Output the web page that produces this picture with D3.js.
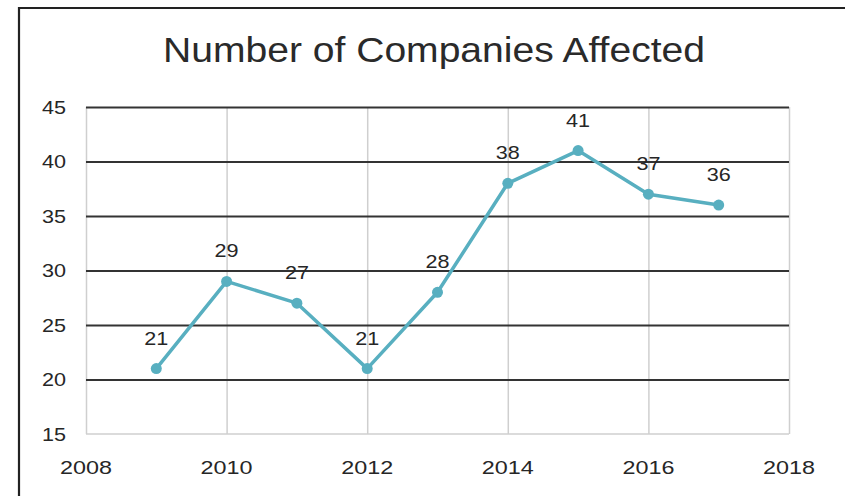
<!DOCTYPE html>
<html>
<head>
<meta charset="utf-8">
<script src="https://cdn.jsdelivr.net/npm/d3@7"></script>
<style>
  html, body { margin: 0; padding: 0; background: #fff; }
  svg { display: block; }
  text { font-family: "Liberation Sans", Arial, sans-serif; fill: #262626; }
</style>
</head>
<body>
<svg id="chart" width="845" height="496"></svg>
<script>
// Companies affected per year
const years = [2009, 2010, 2011, 2012, 2013, 2014, 2015, 2016, 2017];
const companies = [21, 29, 27, 21, 28, 38, 41, 37, 36];
const xTicks = [2008, 2010, 2012, 2014, 2016, 2018];
const yTicks = [15, 20, 25, 30, 35, 40, 45];
const title = "Number of Companies Affected";

const svg = d3.select("#chart");
const W = 845, H = 496;
const plot = { left: 86, right: 789, top: 107, bottom: 434 };

const x = d3.scaleLinear().domain([2008, 2018]).range([plot.left, plot.right]);
const y = d3.scaleLinear().domain([15, 45]).range([plot.bottom, plot.top]);

// outer frame (left and top edges visible)
svg.append("path")
  .attr("d", `M19,${H} L19,8 L${W},8`)
  .attr("fill", "none")
  .attr("stroke", "#222")
  .attr("stroke-width", 2.2);

// title
const t = svg.append("text")
  .attr("x", 434).attr("y", 62)
  .attr("text-anchor", "middle")
  .style("font-size", "35px")
  .style("fill", "#2a2a2a")
  .text(title);
t.attr("textLength", 542).attr("lengthAdjust", "spacingAndGlyphs");

// vertical gridlines
svg.append("g")
  .attr("transform", `translate(0,${plot.bottom})`)
  .call(d3.axisBottom(x).tickValues(xTicks).tickSize(-(plot.bottom - plot.top)).tickFormat(""))
  .call(g => g.select(".domain").remove())
  .call(g => g.selectAll(".tick line").attr("stroke", "#cfcfcf").attr("stroke-width", 1.5));

// bottom axis line at the minimum value
svg.append("line")
  .attr("x1", plot.left).attr("x2", plot.right)
  .attr("y1", y(15)).attr("y2", y(15))
  .attr("stroke", "#cfcfcf").attr("stroke-width", 1.5);

// horizontal gridlines
svg.append("g")
  .attr("transform", `translate(${plot.left},0)`)
  .call(d3.axisLeft(y).tickValues(yTicks.filter(v => v > 15)).tickSize(-(plot.right - plot.left)).tickFormat(""))
  .call(g => g.select(".domain").remove())
  .call(g => g.selectAll(".tick line").attr("stroke", "#333").attr("stroke-width", 2.2));

// y tick labels
svg.append("g").selectAll("text")
  .data(yTicks)
  .join("text")
  .attr("x", 66)
  .attr("y", d => y(d))
  .attr("dy", "0.36em")
  .attr("text-anchor", "end")
  .style("font-size", "19px")
  .attr("textLength", 24).attr("lengthAdjust", "spacingAndGlyphs")
  .text(d => d);

// x tick labels
svg.append("g").selectAll("text")
  .data(xTicks)
  .join("text")
  .attr("x", d => x(d))
  .attr("y", 474)
  .attr("text-anchor", "middle")
  .style("font-size", "19px")
  .attr("textLength", 52).attr("lengthAdjust", "spacingAndGlyphs")
  .text(d => d);

const pts = years.map((yr, i) => ({ yr, v: companies[i] }));
const lineColor = "#58afc0";

// series line
svg.append("path")
  .datum(pts)
  .attr("fill", "none")
  .attr("stroke", lineColor)
  .attr("stroke-width", 3.5)
  .attr("stroke-linejoin", "round")
  .attr("d", d3.line().x(d => x(d.yr)).y(d => y(d.v)));

// markers
svg.append("g").selectAll("circle")
  .data(pts)
  .join("circle")
  .attr("cx", d => x(d.yr))
  .attr("cy", d => y(d.v))
  .attr("r", 5.5)
  .attr("fill", lineColor);

// value labels
svg.append("g").selectAll("text")
  .data(pts)
  .join("text")
  .attr("x", d => x(d.yr))
  .attr("y", d => y(d.v) - 24)
  .attr("text-anchor", "middle")
  .style("font-size", "19px")
  .attr("textLength", 24).attr("lengthAdjust", "spacingAndGlyphs")
  .text(d => d.v);
</script>
</body>
</html>
